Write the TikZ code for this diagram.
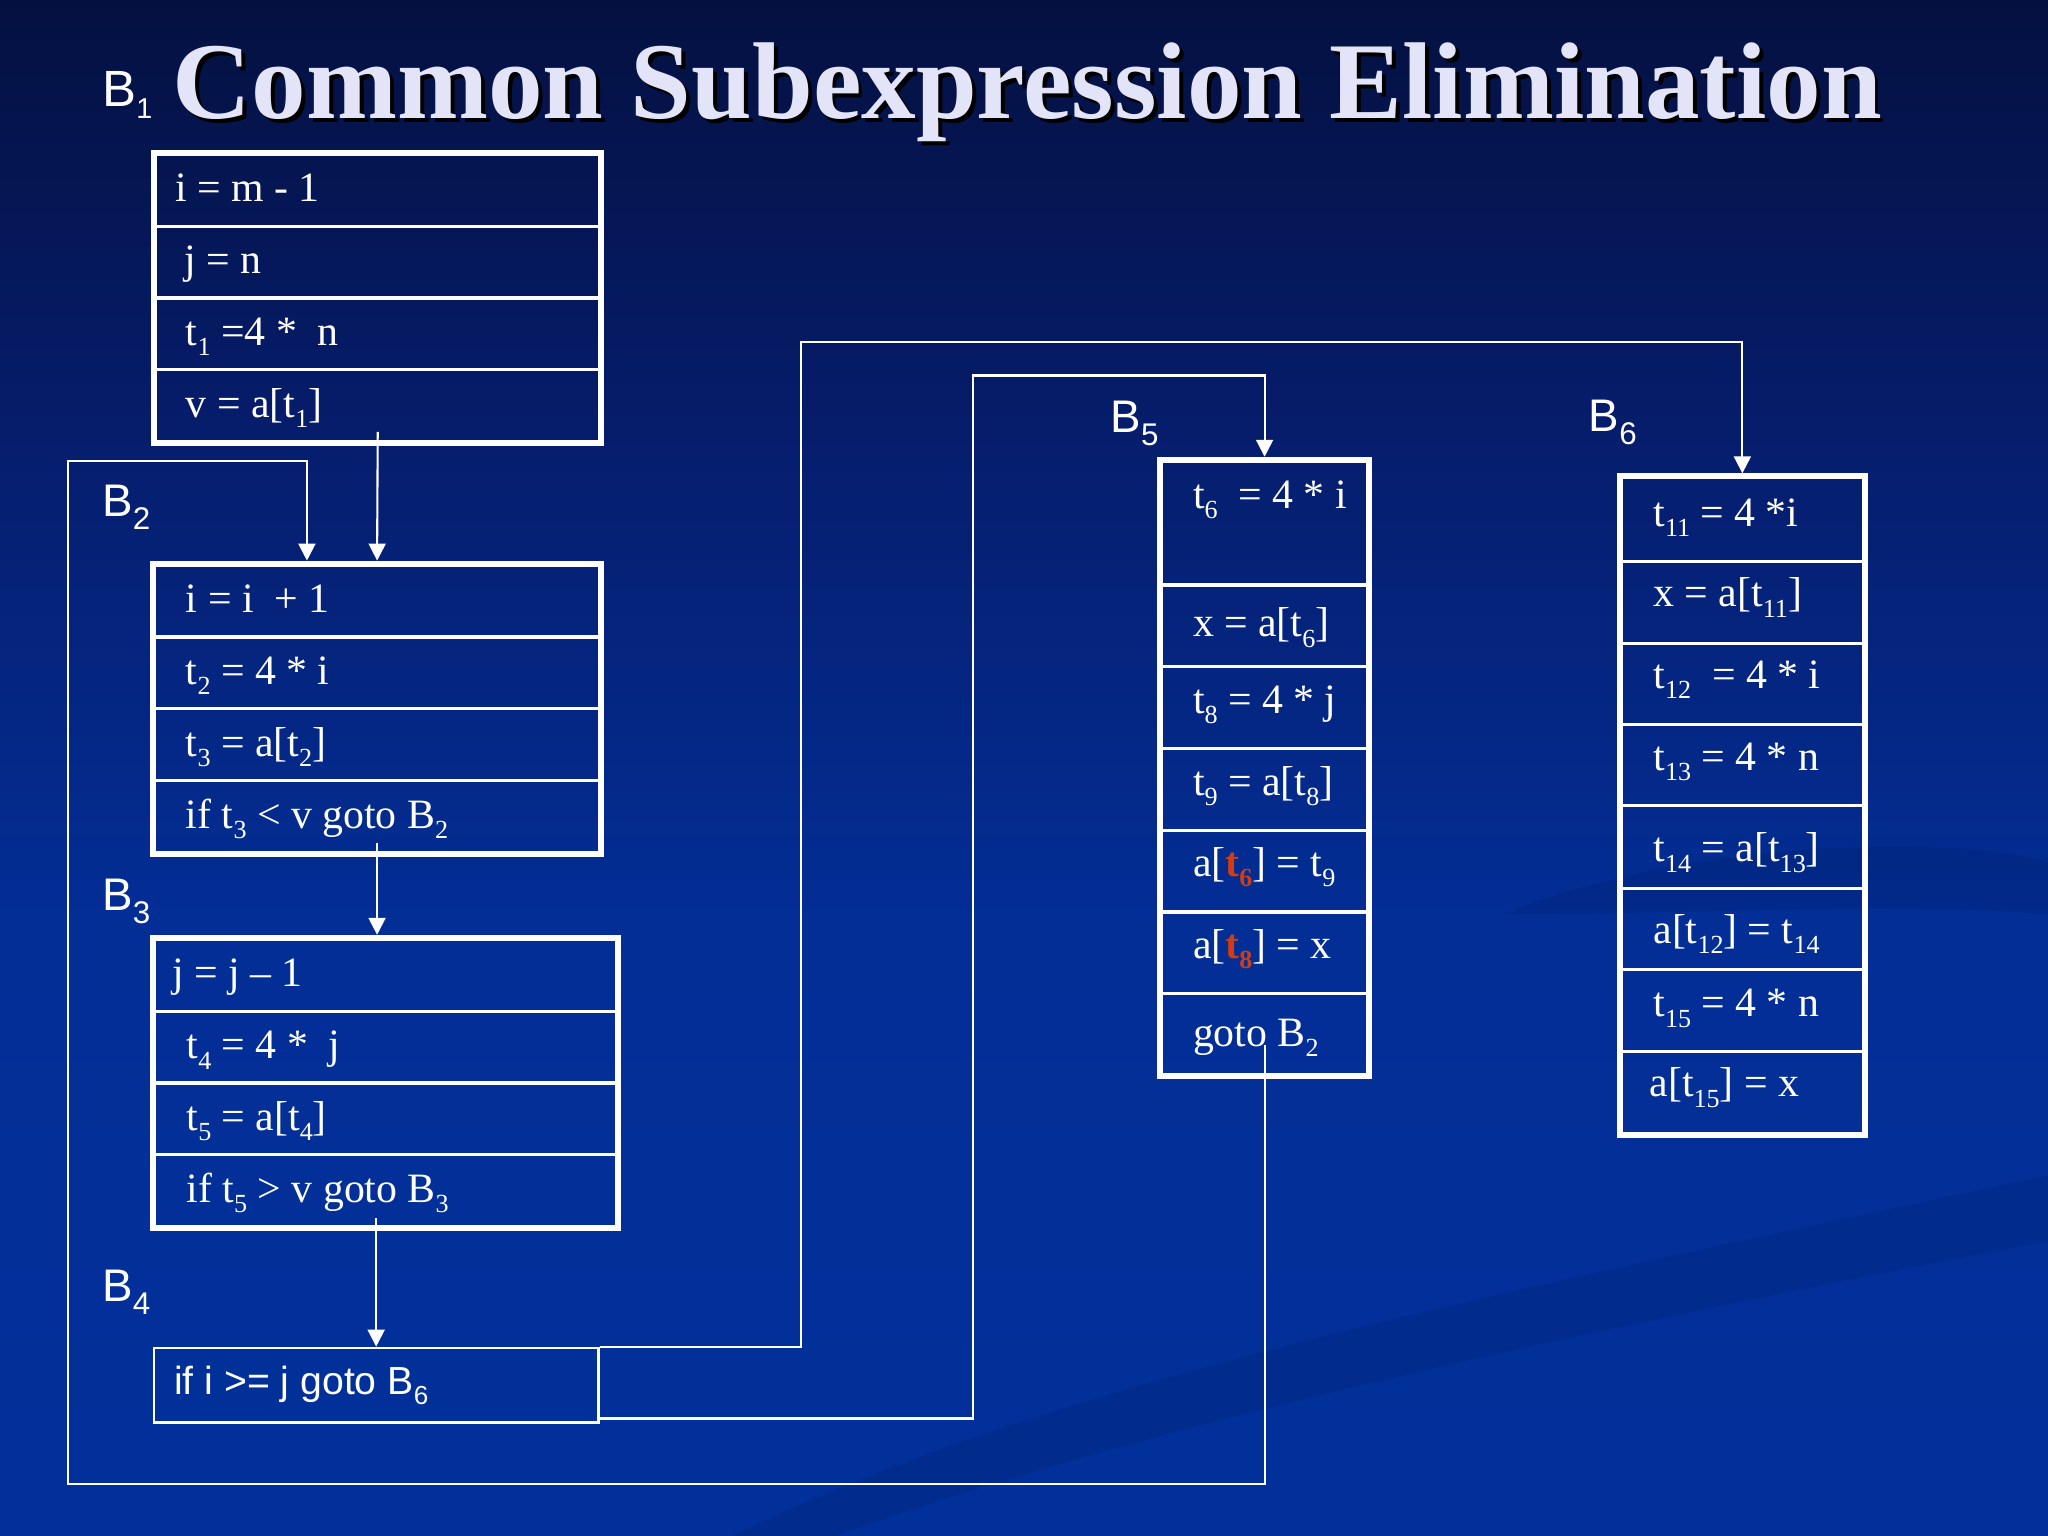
\documentclass[tikz,border=0pt]{standalone}
\usepackage{fontspec}
\setmainfont{Liberation Serif}
\newfontfamily\arialf{Liberation Sans}
\usetikzlibrary{arrows.meta,fit,calc}
\definecolor{bgA}{RGB}{0,2,18}
\definecolor{bgB}{RGB}{3,10,42}
\definecolor{bgC}{RGB}{6,28,105}
\definecolor{bgD}{RGB}{3,46,150}
\definecolor{bgE}{RGB}{0,51,160}
\definecolor{titlec}{RGB}{228,228,248}
\definecolor{tred}{RGB}{210,60,20}
\pgfdeclareverticalshading{bgshade}{100bp}{color(0bp)=(bgE); color(45bp)=(bgD); color(62bp)=(bgC); color(82bp)=(bgB); color(100bp)=(bgA)}
\newcommand\sbs[1]{\raisebox{-4pt}{\fontsize{10}{10}\selectfont #1}}
\newcommand\ssb[1]{\raisebox{-5pt}{\fontsize{12}{12}\selectfont #1}}
\newcommand\rt[1]{{\color{tred}\bfseries t\sbs{#1}}}
\newcommand\ttltext{Common Subexpression Elimination}
\begin{document}
\begin{tikzpicture}[x=0.5pt,y=-0.5pt,
  rowbox/.style={draw=white, line width=1.2pt, inner sep=0pt, anchor=north west},
  frame/.style={draw=white, line width=2.3pt, inner sep=0pt},
  code/.style={anchor=base west, inner sep=0pt, text=white, font=\fontsize{16}{18}\selectfont},
  blabel/.style={anchor=base west, inner sep=0pt, text=white, font=\arialf\fontsize{17.5}{18}\selectfont},
  conn/.style={draw=white, line width=0.8pt},
  arr/.style={conn, -{Triangle[length=6.5pt,width=6.5pt]}}]
\useasboundingbox (0,0) rectangle (1568,1176);
\shade[shading=bgshade] (0,0) rectangle (1568,1176);
% subtle swirl bands
\fill[black, opacity=0.08] (560,1176) .. controls (800,1060) and (1100,1000) .. (1568,900) -- (1568,950) .. controls (1150,1030) and (850,1100) .. (640,1176) -- cycle;
\fill[black, opacity=0.07] (1150,700) .. controls (1300,640) and (1500,640) .. (1568,660) -- (1568,700) .. controls (1450,690) and (1300,700) .. (1150,700) -- cycle;
% title (with its drop shadow)
\node[anchor=base west, inner sep=0pt, text=titlec, font=\bfseries\fontsize{41.8}{45}\selectfont] (title) at (132,90.6) {\rlap{\hspace{1.5pt}\raisebox{-1.5pt}{\color{black}\ttltext}}\ttltext};
\node[anchor=base west, inner sep=0pt, text=white, font=\arialf\fontsize{19.5}{20}\selectfont] (lB1) at (78,81.7) {B\raisebox{-4.5pt}{\fontsize{11}{11}\selectfont 1}};
% B1
\node[rowbox, minimum width=170pt, minimum height=27.5pt] (b1r1) at (118,117) {};
\node[rowbox, minimum width=170pt, minimum height=27.5pt] (b1r2) at (118,172) {};
\node[rowbox, minimum width=170pt, minimum height=27.5pt] (b1r3) at (118,227) {};
\node[rowbox, minimum width=170pt, minimum height=27.5pt] (b1r4) at (118,282) {};
\node[frame, fit=(b1r1)(b1r4)] (B1) {};
\node[code] (t11) at (134,154.5) {i = m - 1};
\node[code] (t12) at (141,209.5) {j = n};
\node[code] (t13) at (142,264.5) {t\sbs{1} =4 *\ \ n};
\node[code] (t14) at (142,319.5) {v = a[t\sbs{1}]};
% B2
\node[blabel] (lB2) at (78,395.6) {B\ssb{2}};
\node[rowbox, minimum width=170.5pt, minimum height=27.5pt] (b2r1) at (117,431.5) {};
\node[rowbox, minimum width=170.5pt, minimum height=27.5pt] (b2r2) at (117,486.5) {};
\node[rowbox, minimum width=170.5pt, minimum height=27.5pt] (b2r3) at (117,541.5) {};
\node[rowbox, minimum width=170.5pt, minimum height=27.5pt] (b2r4) at (117,596.5) {};
\node[frame, fit=(b2r1)(b2r4)] (B2) {};
\node[code] (t21) at (142,469) {i = i\ \ + 1};
\node[code] (t22) at (142,524) {t\sbs{2} = 4 * i};
\node[code] (t23) at (142,579) {t\sbs{3} = a[t\sbs{2}]};
\node[code] (t24) at (142,634) {if t\sbs{3} < v goto B\sbs{2}};
% B3
\node[blabel] (lB3) at (78,696.8) {B\ssb{3}};
\node[rowbox, minimum width=176.75pt, minimum height=27.5pt] (b3r1) at (117,718) {};
\node[rowbox, minimum width=176.75pt, minimum height=27.5pt] (b3r2) at (117,773) {};
\node[rowbox, minimum width=176.75pt, minimum height=27.5pt] (b3r3) at (117,828) {};
\node[rowbox, minimum width=176.75pt, minimum height=27.5pt] (b3r4) at (117,883) {};
\node[frame, fit=(b3r1)(b3r4)] (B3) {};
\node[code] (t31) at (131.5,755.5) {j = j – 1};
\node[code] (t32) at (142.5,810.5) {t\sbs{4} = 4 *\ \ j};
\node[code] (t33) at (142.5,865.5) {t\sbs{5} = a[t\sbs{4}]};
\node[code] (t34) at (142.5,920.5) {if t\sbs{5} > v goto B\sbs{3}};
% B4
\node[blabel] (lB4) at (78,996.6) {B\ssb{4}};
\node[draw=white, line width=1pt, inner sep=0pt, anchor=north west, minimum width=170pt, minimum height=28.5pt] (B4) at (117,1031) {};
\node[anchor=base west, inner sep=0pt, text=white, font=\arialf\fontsize{15}{16}\selectfont] (t41) at (133,1068) {if i >= j goto B\raisebox{-3.5pt}{\fontsize{10}{10}\selectfont 6}};
% B5
\node[blabel] (lB5) at (850,331) {B\ssb{5}};
\node[rowbox, minimum width=79pt, minimum height=47.35pt] (b5r1) at (888,352) {};
\node[rowbox, minimum width=79pt, minimum height=31.15pt] (b5r2) at (888,446.7) {};
\node[rowbox, minimum width=79pt, minimum height=31.5pt] (b5r3) at (888,509) {};
\node[rowbox, minimum width=79pt, minimum height=31.35pt] (b5r4) at (888,572) {};
\node[rowbox, minimum width=79pt, minimum height=31.15pt] (b5r5) at (888,634.7) {};
\node[rowbox, minimum width=79pt, minimum height=31.25pt] (b5r6) at (888,697) {};
\node[rowbox, minimum width=79pt, minimum height=31.1pt] (b5r7) at (888,759.5) {};
\node[frame, fit=(b5r1)(b5r7)] (B5) {};
\node[code] (t51) at (913,389) {t\sbs{6}\ \ = 4 * i};
\node[code] (t52) at (913,487.5) {x = a[t\sbs{6}]};
\node[code] (t53) at (913,546) {t\sbs{8} = 4 * j};
\node[code] (t54) at (913,608.7) {t\sbs{9} = a[t\sbs{8}]};
\node[code] (t55) at (913,671) {a[\rt{6}] = t\sbs{9}};
\node[code] (t56) at (913,733.7) {a[\rt{8}] = x};
\node[code] (t57) at (913,801) {goto B\sbs{2}};
% B6
\node[blabel] (lB6) at (1216,330.5) {B\ssb{6}};
\node[rowbox, minimum width=92.8pt, minimum height=32.05pt] (b6r1) at (1240,364.7) {};
\node[rowbox, minimum width=92.8pt, minimum height=31.3pt] (b6r2) at (1240,428.8) {};
\node[rowbox, minimum width=92.8pt, minimum height=31.1pt] (b6r3) at (1240,491.4) {};
\node[rowbox, minimum width=92.8pt, minimum height=31pt] (b6r4) at (1240,553.6) {};
\node[rowbox, minimum width=92.8pt, minimum height=31.7pt] (b6r5) at (1240,615.6) {};
\node[rowbox, minimum width=92.8pt, minimum height=31pt] (b6r6) at (1240,679) {};
\node[rowbox, minimum width=92.8pt, minimum height=31.5pt] (b6r7) at (1240,741) {};
\node[rowbox, minimum width=92.8pt, minimum height=31.3pt] (b6r8) at (1240,804) {};
\node[frame, fit=(b6r1)(b6r8)] (B6) {};
\node[code] (t61) at (1265.5,402.8) {t\sbs{11} = 4 *i};
\node[code] (t62) at (1265.5,464.5) {x = a[t\sbs{11}]};
\node[code] (t63) at (1265.5,527) {t\sbs{12}\ \ = 4 * i};
\node[code] (t64) at (1265.5,589.6) {t\sbs{13} = 4 * n};
\node[code] (t65) at (1265.5,659.8) {t\sbs{14} = a[t\sbs{13}]};
\node[code] (t66) at (1265.5,722) {a[t\sbs{12}] = t\sbs{14}};
\node[code] (t67) at (1265.5,778.4) {t\sbs{15} = 4 * n};
\node[code] (t68) at (1262.5,839.7) {a[t\sbs{15}] = x};
% connector points
\coordinate (c1) at ($(B1.south)+(0,-11)$);
\coordinate (c2) at ($(B2.south)+(0,-11)$);
\coordinate (c3) at ($(B4.north |- B3.south)+(0,-10)$);
\coordinate (c5) at ($(B5.south)+(0,-26)$);
\coordinate (k1) at (613.5,261.5);
\coordinate (k2) at (745,287.5);
\coordinate (k3) at (52.4,1136);
\coordinate (k4) at (235,352.7);
\coordinate (c4) at ($(B4.south east)+(0,-4)$);
% connectors
\draw[arr] (c1) -- (B2.north);
\draw[arr] (c2) -- (c2 |- B3.north);
\draw[arr] (c3) -- (B4.north);
\draw[arr] (B4.north east) -| (k1) -| (B6.north);
\draw[arr] (c4) -| (k2) -| (B5.north);
\draw[arr] (c5) |- (k3) |- (k4) -- (k4 |- B2.north);
\end{tikzpicture}
\end{document}
